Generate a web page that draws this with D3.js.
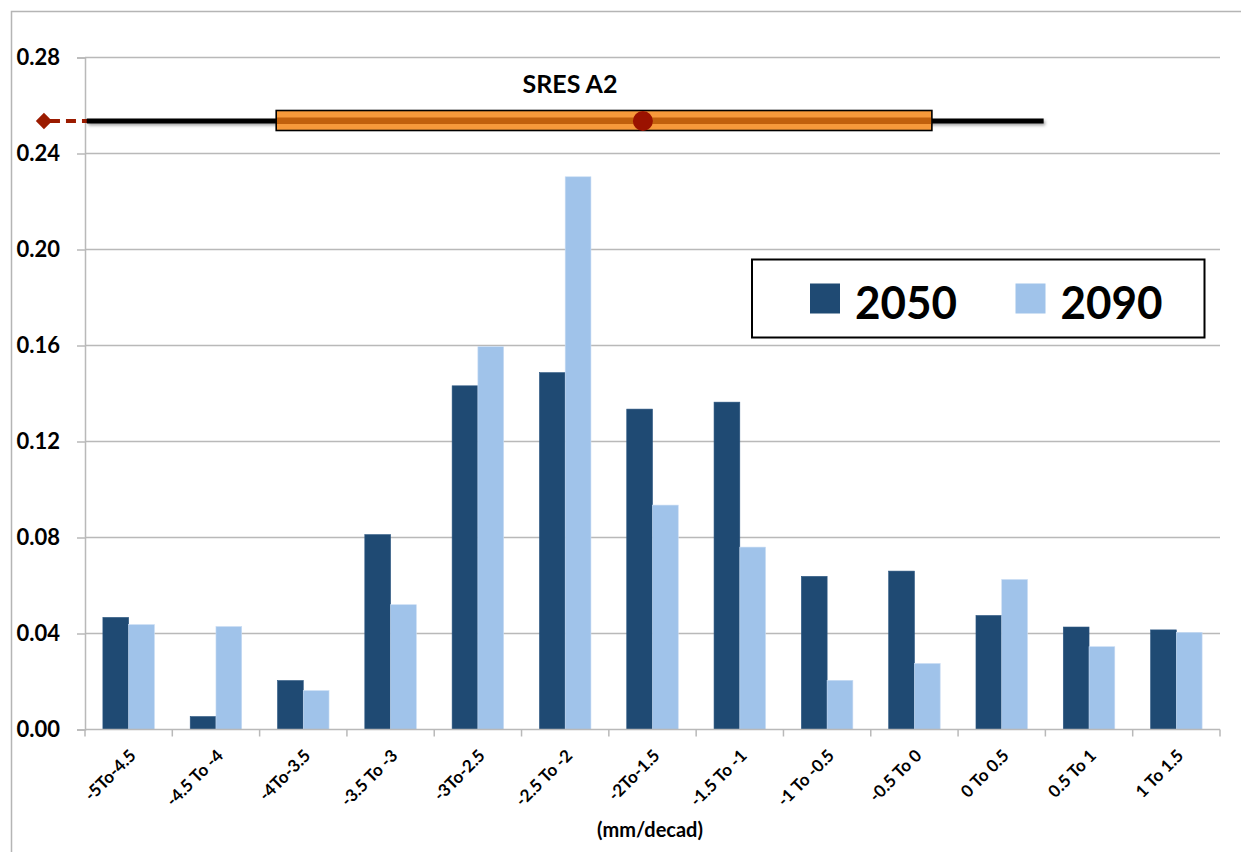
<!DOCTYPE html>
<html>
<head>
<meta charset="utf-8">
<script src="https://cdn.jsdelivr.net/npm/d3@7"></script>
<style>
  html, body { margin: 0; padding: 0; background: #fff; }
  svg { display: block; }
  text { font-family: Lato, "Open Sans", "DejaVu Sans", sans-serif; font-weight: 700; fill: #000; }
</style>
</head>
<body>
<svg id="chart" width="1241" height="852"></svg>
<script>
// Rate-of-change bins (mm/decad) and the share of runs falling in each bin
const categories = ["-5To-4.5", "-4.5 To -4", "-4To-3.5", "-3.5 To -3", "-3To-2.5", "-2.5 To -2",
                    "-2To-1.5", "-1.5 To -1", "-1 To -0.5", "-0.5 To 0", "0 To 0.5", "0.5 To 1", "1 To 1.5"];
const seriesNames = ["2050", "2090"];
const values2050 = [0.0467, 0.0054, 0.0204, 0.0812, 0.1432, 0.1487, 0.1335, 0.1364, 0.0638, 0.0660, 0.0475, 0.0427, 0.0415];
const values2090 = [0.0437, 0.0429, 0.0162, 0.0520, 0.1595, 0.2303, 0.0935, 0.0760, 0.0205, 0.0275, 0.0625, 0.0345, 0.0405];
const seriesColors = ["#1f4a73", "#a0c3ea"];
const yTicks = [0, 0.04, 0.08, 0.12, 0.16, 0.20, 0.24, 0.28];
const xTitle = "(mm/decad)";

// SRES A2 spread on the same mm/decad axis: outlier, whisker low, Q1, median, Q3, whisker high
const boxLabel = "SRES A2";
const boxStats = [-5.235, -4.99, -3.905, -1.805, -0.15, 0.49];

const svg = d3.select("#chart");
const W = 1241, H = 852;
const plotL = 85, plotR = 1220, plotT = 57.5, plotB = 729.5;
const gridColor = "#b9b9b9";

// outer frame (only the top and left edges fall inside the view)
svg.append("path")
  .attr("d", `M11.5,${H} V11.5 H${W}`)
  .attr("fill", "none").attr("stroke", "#b5b5b5").attr("stroke-width", 1.5);

const y = d3.scaleLinear().domain([0, 0.28]).range([plotB, plotT]);
const x = d3.scaleBand().domain(categories).range([plotL, plotR]).paddingInner(0.41).paddingOuter(0.205);
const xs = d3.scaleBand().domain(seriesNames).range([0, x.bandwidth()]);
const xLin = d3.scaleLinear().domain([-5, 1.5]).range([plotL, plotR]);

// horizontal gridlines
svg.append("g").selectAll("line").data(yTicks.filter(d => d > 0)).join("line")
  .attr("x1", plotL).attr("x2", plotR)
  .attr("y1", d => y(d)).attr("y2", d => y(d))
  .attr("stroke", gridColor).attr("stroke-width", 1.5);

// y axis
const yAxis = svg.append("g").attr("transform", `translate(${plotL},0)`)
  .call(d3.axisLeft(y).tickValues(yTicks).tickFormat(d3.format(".2f")).tickSize(8).tickPadding(17));
yAxis.select(".domain").attr("stroke", gridColor).attr("stroke-width", 1.5);
yAxis.selectAll(".tick line").attr("stroke", gridColor).attr("stroke-width", 1.5);
yAxis.selectAll(".tick text").attr("font-size", 22).attr("font-family", "Lato, sans-serif").attr("font-weight", 700).attr("fill", "#000");

// bars
const data = categories.map((c, i) => ({ cat: c, vals: [values2050[i], values2090[i]] }));
const groups = svg.append("g").selectAll("g").data(data).join("g")
  .attr("transform", d => `translate(${x(d.cat)},0)`);
groups.selectAll("rect").data(d => d.vals.map((v, k) => ({ key: seriesNames[k], v, k }))).join("rect")
  .attr("x", d => xs(d.key))
  .attr("width", xs.bandwidth())
  .attr("y", d => y(d.v))
  .attr("height", d => y(0) - y(d.v))
  .attr("fill", d => seriesColors[d.k])
  .attr("stroke", d => d.k === 1 ? "#c9dcf3" : "#2b5681")
  .attr("stroke-width", 0.6);

// x axis: labels at category centres, tick marks on category boundaries
const xAxis = svg.append("g").attr("transform", `translate(0,${plotB})`)
  .call(d3.axisBottom(x).tickSize(0).tickPadding(0));
xAxis.select(".domain").remove();
xAxis.selectAll(".tick text")
  .attr("font-size", 17).attr("font-family", "Lato, sans-serif").attr("font-weight", 700).attr("fill", "#000")
  .attr("text-anchor", "end")
  .attr("y", 0).attr("dy", "0.35em")
  .attr("transform", "translate(4,23) rotate(-45)");

svg.append("line")
  .attr("x1", plotL).attr("x2", plotR).attr("y1", plotB).attr("y2", plotB)
  .attr("stroke", gridColor).attr("stroke-width", 1.5);
const bounds = categories.map(c => x(c) - x.step() * x.paddingInner() / 2).concat([plotR]);
bounds[0] = plotL;
svg.append("g").selectAll("line").data(bounds).join("line")
  .attr("x1", d => d).attr("x2", d => d)
  .attr("y1", plotB).attr("y2", plotB + 7)
  .attr("stroke", gridColor).attr("stroke-width", 1.5);

svg.append("text")
  .attr("x", 650).attr("y", 837)
  .attr("text-anchor", "middle").attr("font-size", 20)
  .text(xTitle);

// SRES A2 box-and-whisker strip
const defs = svg.append("defs");
const f = defs.append("filter").attr("id", "soft").attr("filterUnits", "userSpaceOnUse")
  .attr("x", 0).attr("y", 100).attr("width", W).attr("height", 50);
f.append("feDropShadow").attr("dx", 1.5).attr("dy", 2).attr("stdDeviation", 1.5)
  .attr("flood-color", "#000").attr("flood-opacity", 0.35);

const [outlier, wLow, q1, med, q3, wHigh] = boxStats;
const by = 121;
svg.append("line")
  .attr("x1", xLin(outlier) + 6).attr("x2", xLin(wLow) + 2)
  .attr("y1", by).attr("y2", by)
  .attr("stroke", "#9b1b00").attr("stroke-width", 4).attr("stroke-dasharray", "10,6");
svg.append("path")
  .attr("transform", `translate(${xLin(outlier)},${by})`)
  .attr("d", d3.symbol(d3.symbolDiamond2, 170)())
  .attr("fill", "#9b1b00");
svg.append("rect")
  .attr("x", xLin(wLow)).attr("width", xLin(wHigh) - xLin(wLow))
  .attr("y", by - 2.5).attr("height", 5)
  .attr("fill", "#000")
  .attr("filter", "url(#soft)");
svg.append("rect")
  .attr("x", xLin(q1)).attr("width", xLin(q3) - xLin(q1))
  .attr("y", by - 10.5).attr("height", 20)
  .attr("fill", "#f7993a").attr("stroke", "#000").attr("stroke-width", 1.6);
svg.append("rect")
  .attr("x", xLin(q1) + 0.8).attr("width", xLin(q3) - xLin(q1) - 1.6)
  .attr("y", by - 3.5).attr("height", 6.5)
  .attr("fill", "#c1600c");
svg.append("circle")
  .attr("cx", xLin(med)).attr("cy", by).attr("r", 10)
  .attr("fill", "#9b1200");

svg.append("text")
  .attr("x", 570).attr("y", 93)
  .attr("text-anchor", "middle").attr("font-size", 25)
  .text(boxLabel);

// legend
const lg = svg.append("g");
lg.append("rect")
  .attr("x", 752).attr("y", 259.5).attr("width", 452.5).attr("height", 78)
  .attr("fill", "#fff").attr("stroke", "#000").attr("stroke-width", 2);
const legendX = [810, 1015.5];
seriesNames.forEach((s, i) => {
  lg.append("rect")
    .attr("x", legendX[i]).attr("y", 283.5).attr("width", 30).attr("height", 30)
    .attr("fill", seriesColors[i]);
  lg.append("text")
    .attr("x", legendX[i] + 45).attr("y", 318.5)
    .attr("font-size", 46)
    .attr("textLength", 102).attr("lengthAdjust", "spacingAndGlyphs")
    .text(s);
});
</script>
</body>
</html>
